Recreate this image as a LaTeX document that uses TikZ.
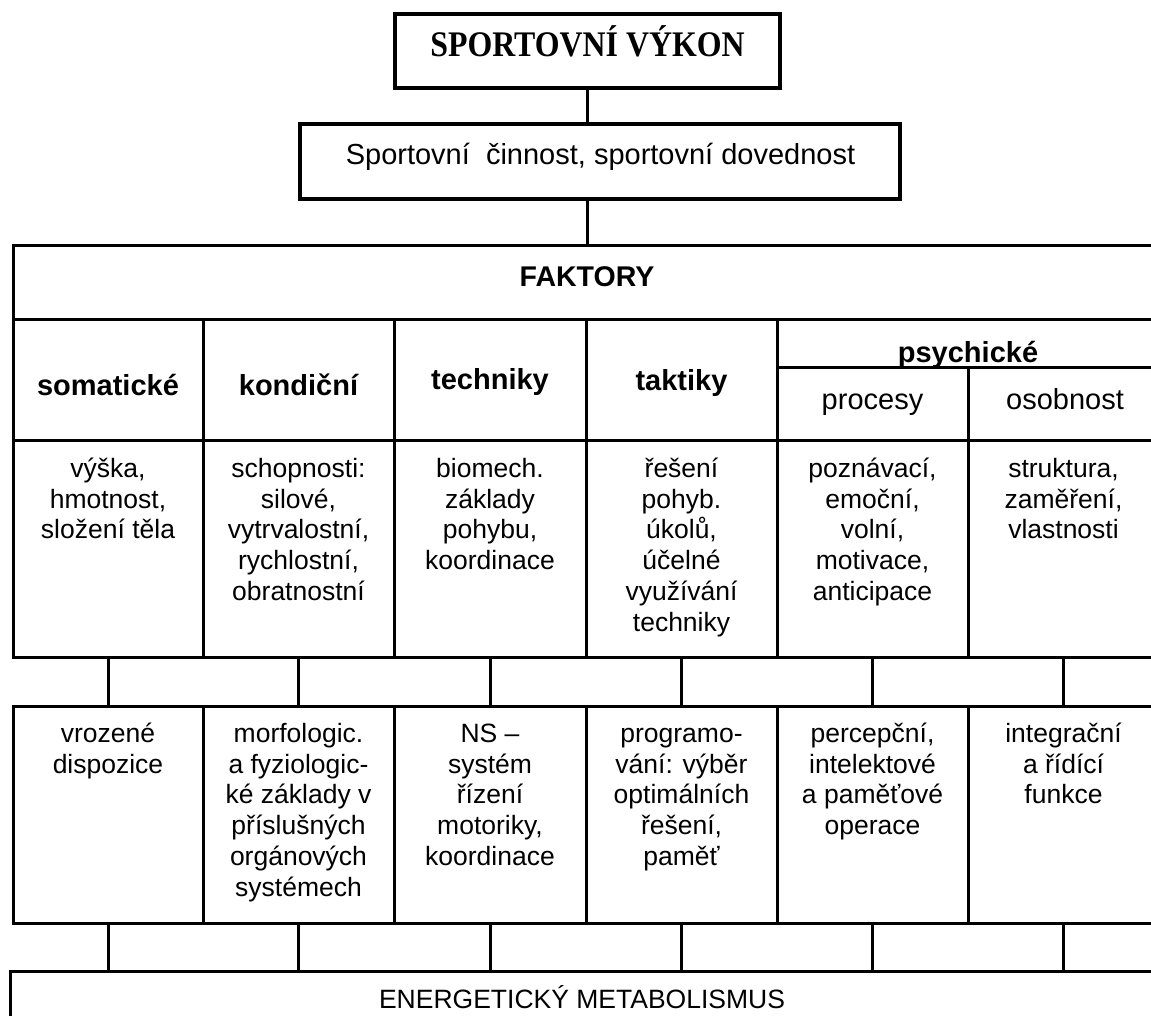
\documentclass[tikz,border=0pt]{standalone}
\usepackage{fontspec}
\setmainfont{Liberation Sans}
\newfontfamily\titlefont[FakeStretch=0.885]{Liberation Serif}
\begin{document}
\begin{tikzpicture}[x=1pt,y=-1pt,
  cellbox/.style={draw, line width=3pt, inner sep=0pt, outer sep=0pt},
  link/.style={line width=3pt},
  ttl/.style={anchor=base, inner sep=0pt, font=\titlefont\fontsize{36}{40}\selectfont\bfseries},
  plain/.style={anchor=base, inner sep=0pt, font=\fontsize{29}{33}\selectfont},
  hdr/.style={anchor=base, inner sep=0pt, font=\fontsize{29}{33}\selectfont\bfseries},
  body/.style={anchor=north, align=center, inner sep=0pt, font=\fontsize{26.5}{30.8}\selectfont}]
\useasboundingbox (0,0) rectangle (1151,1016);
\fill[white] (0,0) rectangle (1151,1016);
\clip (0,0) rectangle (1151,1016);

% top boxes
\node[cellbox, line width=3.4pt, minimum width=385pt, minimum height=74pt] (vykon) at (587.5,51) {};
\node[ttl] (tvykon) at (587.5,57) {SPORTOVNÍ VÝKON};
\node[cellbox, line width=3.4pt, minimum width=600pt, minimum height=75pt] (act) at (600,161.5) {};
\node[plain] (tact) at (600.5,165) {Sportovní\ \ činnost, sportovní dovednost};

% FAKTORY row
\node[cellbox, minimum width=1146pt, minimum height=73pt] (fak) at (586,282.5) {};
\node[hdr, font=\fontsize{28.5}{33}\selectfont\bfseries] (tfak) at (587,287) {FAKTORY};

% header row
\node[cellbox, minimum width=190pt, minimum height=121pt] (h1) at (108,379.5) {};
\node[cellbox, minimum width=191pt, minimum height=121pt] (h2) at (298.5,379.5) {};
\node[cellbox, minimum width=192pt, minimum height=121pt] (h3) at (490,379.5) {};
\node[cellbox, minimum width=191pt, minimum height=121pt] (h4) at (681.5,379.5) {};
\node[cellbox, minimum width=382pt, minimum height=48pt] (hpsy) at (968,343) {};
\node[cellbox, minimum width=191pt, minimum height=73pt] (h5) at (872.5,403.5) {};
\node[cellbox, minimum width=191pt, minimum height=73pt] (h6) at (1063.5,403.5) {};
\node[hdr] (th1) at (108,395) {somatické};
\node[hdr] (th2) at (298.5,395) {kondiční};
\node[hdr] (th3) at (490,389) {techniky};
\node[hdr] (th4) at (681.5,390) {taktiky};
\node[hdr] (thpsy) at (968,362) {psychické};
\node[plain] (th5) at (872.5,409) {procesy};
\node[plain] (th6) at (1065,409) {osobnost};

% content row
\node[cellbox, minimum width=190pt, minimum height=217pt] (k1) at (108,548.5) {};
\node[cellbox, minimum width=191pt, minimum height=217pt] (k2) at (298.5,548.5) {};
\node[cellbox, minimum width=192pt, minimum height=217pt] (k3) at (490,548.5) {};
\node[cellbox, minimum width=191pt, minimum height=217pt] (k4) at (681.5,548.5) {};
\node[cellbox, minimum width=191pt, minimum height=217pt] (k5) at (872.5,548.5) {};
\node[cellbox, minimum width=191pt, minimum height=217pt] (k6) at (1063.5,548.5) {};
\node[body] (tk1) at (108,455.5) {\strut výška,\\hmotnost,\\složení těla};
\node[body] (tk2) at (298.5,455.5) {\strut schopnosti:\\silové,\\vytrvalostní,\\rychlostní,\\obratnostní};
\node[body] (tk3) at (490,455.5) {\strut biomech.\\základy\\pohybu,\\koordinace};
\node[body] (tk4) at (681.5,455.5) {\strut řešení\\pohyb.\\úkolů,\\účelné\\využívání\\techniky};
\node[body] (tk5) at (872.5,455.5) {\strut poznávací,\\emoční,\\volní,\\motivace,\\anticipace};
\node[body] (tk6) at (1063.5,455.5) {\strut struktura,\\zaměření,\\vlastnosti};

% second table
\node[cellbox, minimum width=190pt, minimum height=217pt] (m1) at (108,814.5) {};
\node[cellbox, minimum width=191pt, minimum height=217pt] (m2) at (298.5,814.5) {};
\node[cellbox, minimum width=192pt, minimum height=217pt] (m3) at (490,814.5) {};
\node[cellbox, minimum width=191pt, minimum height=217pt] (m4) at (681.5,814.5) {};
\node[cellbox, minimum width=191pt, minimum height=217pt] (m5) at (872.5,814.5) {};
\node[cellbox, minimum width=191pt, minimum height=217pt] (m6) at (1063.5,814.5) {};
\node[body] (tm1) at (108,720.5) {\strut vrozené\\dispozice};
\node[body] (tm2) at (298.5,720.5) {\strut morfologic.\\a fyziologic-\\ké základy v\\příslušných\\orgánových\\systémech};
\node[body] (tm3) at (490,720.5) {\strut NS –\\systém\\řízení\\motoriky,\\koordinace};
\node[body] (tm4) at (681.5,720.5) {\strut programo-\\vání: výběr\\optimálních\\řešení,\\paměť};
\node[body] (tm5) at (872.5,720.5) {\strut percepční,\\intelektové\\a paměťové\\operace};
\node[body] (tm6) at (1063.5,720.5) {\strut integrační\\a řídící\\funkce};

% bottom box
\node[cellbox, minimum width=1150pt, minimum height=69pt] (energy) at (585,1005.5) {};
\node[plain, font=\fontsize{26.5}{30}\selectfont] (tenergy) at (582,1008) {ENERGETICKÝ METABOLISMUS};

% connectors
\draw[link] (vykon.south) -- (vykon.south |- act.north);
\draw[link] (vykon.south |- act.south) -- (vykon.south |- fak.north);
\foreach \i in {1,...,6}{
  \draw[link] (k\i.south) -- (m\i.north);
  \draw[link] (m\i.south) -- (m\i.south |- energy.north);
}
\end{tikzpicture}
\end{document}
